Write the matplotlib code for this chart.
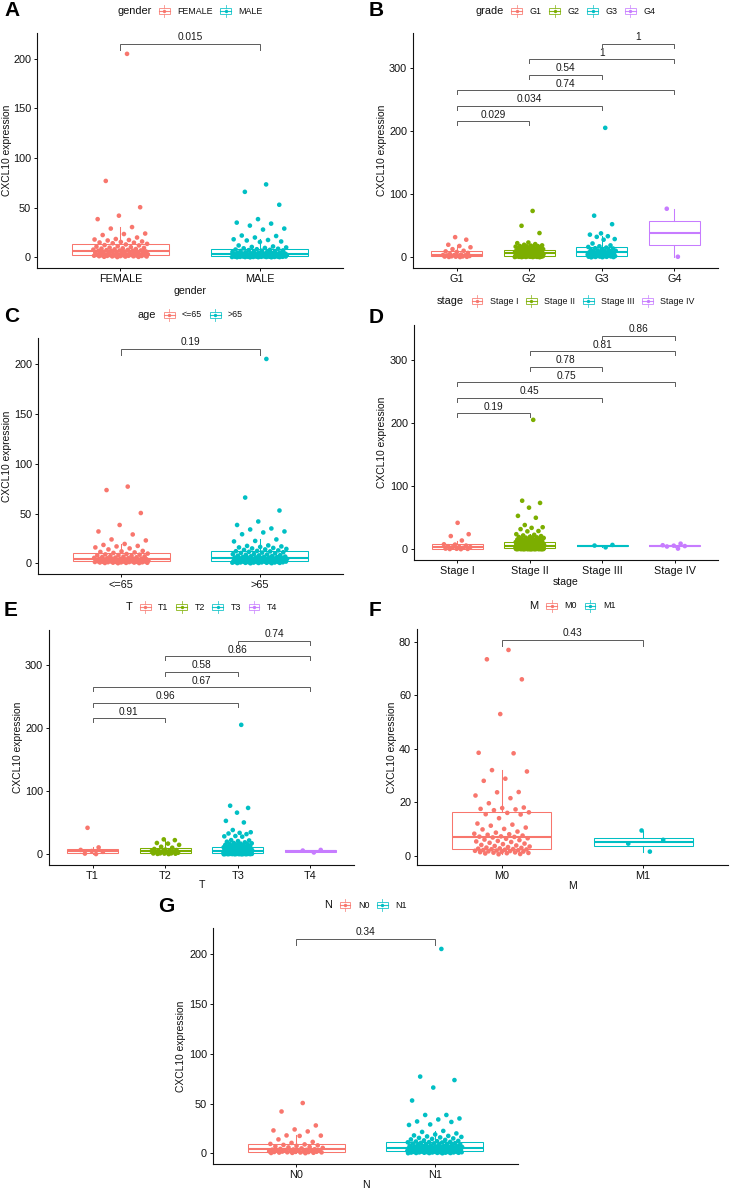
import numpy as np
import matplotlib
matplotlib.use('Agg')
import matplotlib.pyplot as plt
from matplotlib.offsetbox import DrawingArea, TextArea, HPacker, AnchoredOffsetbox
from matplotlib.patches import Rectangle
from matplotlib.lines import Line2D

plt.rcParams['font.family'] = ['Liberation Sans', 'DejaVu Sans']

RED, GREEN, CYAN, PURPLE = '#F8766D', '#7CAE00', '#00BFC4', '#C77CFF'

# ---------------- data ----------------
gender_labels = ['FEMALE', 'MALE']
gender_female = [205, 77, 50.5, 42, 38.5, 30.5, 29, 24, 23.5, 22.5, 20, 18.5, 18, 17.5, 17, 16, 15.5, 15, 14.8, 14.2,
                 13.6, 13, 12.4, 12, 11.2, 10.8, 10.3, 9.8, 9.5, 9.1, 8.8, 8.4, 8.1, 7.8, 7.5, 7.3, 7.0, 6.9, 6.7, 6.6,
                 6.3, 6.0, 5.8, 5.5, 5.2, 5.0, 4.7, 4.5, 4.3, 4.0, 3.8, 3.6, 3.4, 3.2, 3.1, 2.9, 2.8, 2.7, 2.6, 2.5,
                 2.4, 2.3, 2.2, 2.1, 2.0, 1.9, 1.8, 1.7, 1.6, 1.5, 1.4, 1.3, 1.2, 1.1, 1.0, 0.9, 0.8, 0.6, 0.5, 0.3]
gender_male = [73.5, 66, 53, 38.5, 35, 34, 32, 29, 28, 22, 21.5, 20, 18.2, 17.5, 17, 16, 15.5, 12, 11, 10.5, 10, 9.5, 9.1, 8.7,
               8.2, 7.9, 7.6, 7.3, 7.0, 6.7, 6.4, 6.1, 5.8, 5.5, 5.3, 5.1, 4.9, 4.7, 4.5, 4.3, 4.1, 3.9, 3.8, 3.7, 3.6, 3.5, 3.4, 3.35,
               3.2, 3.1, 3.0, 2.9, 2.8, 2.7, 2.6, 2.5, 2.4, 2.3, 2.2, 2.1, 2.0, 1.9, 1.8, 1.7, 1.6, 1.5, 1.4, 1.3, 1.25, 1.2, 1.1, 1.05,
               0.98, 0.95, 0.9, 0.88, 0.85, 0.8, 0.78, 0.75, 0.7, 0.65, 0.6, 0.58, 0.55, 0.5, 0.45, 0.4, 0.38, 0.35, 0.3, 0.25, 0.2, 0.15, 0.1, 0.05]
gender_pvalues = ['0.015']

grade_labels = ['G1', 'G2', 'G3', 'G4']
grade_g1 = [0.5, 0.7, 0.9, 1.1, 1.3, 1.5, 1.7, 2.2, 2.6, 3.0, 3.3, 3.5, 3.7, 4.5, 5.5, 7.0, 8.5, 9.5, 10.5, 13, 16, 18, 20, 28, 32]
grade_g2 = [73.5, 50, 38.5, 23.5, 22.5, 21, 20, 19, 18.5, 18, 17.8, 17.5, 17, 16.5, 16, 15.5, 15, 14.5, 14, 13.5, 13, 12.5, 12,
            11.5, 11.3, 11, 10.7, 10.4, 10.1, 9.8, 9.5, 9.2, 9.0, 8.8, 8.6, 8.4, 8.2, 8.0, 7.8, 7.6, 7.4, 7.3, 7.2, 7.1, 7.0, 6.9,
            6.7, 6.5, 6.3, 6.1, 5.9, 5.7, 5.5, 5.3, 5.1, 4.9, 4.7, 4.5, 4.3, 4.1, 3.9, 3.7, 3.5, 3.3, 3.1, 3.0, 2.9, 2.8, 2.7,
            2.5, 2.4, 2.3, 2.2, 2.1, 2.0, 1.9, 1.8, 1.7, 1.6, 1.5, 1.4, 1.3, 1.2, 1.1, 1.0, 0.9, 0.8, 0.7, 0.6, 0.5, 0.4, 0.3]
grade_g3 = [205, 66, 52.5, 38, 36, 33.5, 32.5, 29, 28, 22, 19, 17.5, 16.5,
            15.5, 14.5, 14, 13, 12, 11.5, 11, 10.5, 10, 9.5, 9, 8.5, 8.0,
            7.7, 7.3, 7, 6.5, 6, 5.5, 5, 4.5, 4, 3.6, 3.3, 3.0, 2.7,
            2.5, 2.3, 2.1, 1.9, 1.7, 1.5, 1.3, 1.1, 0.9, 0.7, 0.5, 0.3, 0.1]
grade_g4 = [1.0, 77.0]
grade_pvalues = ['0.029', '0.034', '0.74', '0.54', '1', '1']

age_labels = ['<=65', '>65']
age_young = [77, 73.5, 50.5, 38.5, 32, 29, 24, 23, 19.5, 18.5, 17.5, 17, 16, 15, 14, 12.5, 12, 11.5, 11, 10.5,
             9.8, 9.4, 9.0, 8.7, 8.3, 8.0, 7.6, 7.3, 7.0, 6.7, 6.4, 6.1, 5.8, 5.5, 5.3, 5.1, 4.9, 4.7, 4.5, 4.4,
             4.2, 4.1, 4.0, 3.9, 3.8, 3.7, 3.6, 3.5, 3.4, 3.3, 3.2, 3.1, 2.9, 2.8, 2.6, 2.5, 2.4, 2.3, 2.2, 2.1,
             1.95, 1.9, 1.8, 1.7, 1.6, 1.5, 1.45, 1.4, 1.3, 1.2, 1.1, 1.0, 0.9, 0.8, 0.7, 0.6, 0.5, 0.4, 0.3, 0.2]
age_old = [205, 66, 53, 42, 38.5, 35, 34, 32, 31, 29.2, 24, 22.5, 22, 18, 17.5, 17, 16.5, 16, 15.5, 15, 14.5, 14, 13.5, 13,
           12.5, 12.2, 12, 11.6, 11.2, 10.8, 10.4, 10, 9.6, 9.2, 8.9, 8.6, 8.3, 8, 7.7, 7.4, 7.1, 6.8, 6.6, 6.4, 6.2, 6.0, 5.9, 5.8,
           5.6, 5.5, 5.3, 5.1, 4.9, 4.7, 4.5, 4.3, 4.1, 3.9, 3.7, 3.5, 3.3, 3.1, 3.0, 2.9, 2.8, 2.7, 2.6, 2.5, 2.4, 2.3, 2.2, 2.1,
           1.95, 1.9, 1.85, 1.8, 1.7, 1.6, 1.5, 1.4, 1.35, 1.3, 1.2, 1.1, 1.0, 0.95, 0.9, 0.8, 0.7, 0.6, 0.55, 0.5, 0.4, 0.3, 0.2, 0.1]
age_pvalues = ['0.19']

stage_labels = ['Stage I', 'Stage II', 'Stage III', 'Stage IV']
stage_1 = [0.3, 0.5, 0.7, 0.9, 1.2, 2.5, 3.2, 3.6, 3.8, 5.0, 6.0, 7.5, 8.0, 14, 21, 24, 42]
stage_2 = [205, 77, 73.5, 66, 53, 50, 38.5, 35, 34, 32, 29, 28.5, 24, 23, 22, 21, 20, 19.5, 19, 18.5, 18, 17.5, 17, 16.5,
           16, 15.5, 15, 14.5, 14, 13.5, 13, 12.5, 12, 11.5, 11.2,
           10.9, 10.7, 10.5, 10.3, 10.1, 9.9, 9.7, 9.5, 9.3, 9.1, 8.9, 8.7, 8.5, 8.3, 8.1, 7.9, 7.7, 7.5, 7.3, 7.2, 7.1, 7.0,
           6.9, 6.8, 6.7, 6.6, 6.5, 6.4, 6.3, 6.2, 6.1, 6.0, 5.95, 5.9, 5.85,
           5.7, 5.6, 5.5, 5.4, 5.3, 5.2, 5.1, 5.0, 4.9, 4.8, 4.7, 4.5, 4.3, 4.1, 3.9, 3.7, 3.5, 3.3, 3.1, 3.0, 2.9, 2.8, 2.7,
           2.6, 2.5, 2.4, 2.3, 2.2, 2.1, 2.0, 1.9, 1.8, 1.75, 1.7, 1.65,
           1.58, 1.55, 1.5, 1.45, 1.4, 1.35, 1.3, 1.25, 1.2, 1.15, 1.1, 1.05, 1.0, 0.95, 0.9, 0.85, 0.8, 0.75, 0.7, 0.65,
           0.6, 0.55, 0.5, 0.45, 0.4, 0.35, 0.3, 0.28, 0.25, 0.22, 0.2, 0.15, 0.12, 0.1, 0.05]
stage_3 = [3.2, 6.0, 7.0]
stage_4 = [1.2, 4.5, 5.2, 5.8, 6.5, 9.0]
stage_pvalues = ['0.19', '0.45', '0.75', '0.78', '0.81', '0.86']

t_labels = ['T1', 'T2', 'T3', 'T4']
t_1 = [0.5, 1.2, 4.0, 5.3, 7.0, 11.0, 42.0]
t_2 = [0.4, 0.7, 1.0, 1.2, 1.4, 1.5, 1.6, 2.5, 3.2, 4.0, 4.5, 5.0, 5.3, 5.8, 6.3, 6.8, 7.5, 8.5, 10.5, 12, 15, 17, 18, 22.5, 23.7]
t_3 = [205, 77, 73.5, 66, 53, 50.5, 38.5, 35, 34, 33, 32, 29, 28.5, 28, 22.5, 22, 21, 20, 19, 18, 17.5, 17, 16.5, 16,
       15.5, 15, 14.5, 14, 13.5, 13, 12.5,
       11.8, 11.5, 11.2, 11, 10.7, 10.4, 10.1, 9.8, 9.5, 9.2, 8.9, 8.6, 8.3, 8.1, 7.9, 7.7, 7.5, 7.3, 7.1, 6.9, 6.8, 6.7,
       6.6, 6.5, 6.4, 6.3, 6.2, 6.1, 6.0, 5.9, 5.85,
       5.7, 5.6, 5.5, 5.4, 5.2, 5.0, 4.8, 4.6, 4.4, 4.2, 4.0, 3.8, 3.6, 3.4, 3.2, 3.0, 2.9, 2.8, 2.7, 2.6, 2.5, 2.4, 2.3,
       2.2, 2.1, 2.0, 1.9, 1.8, 1.75, 1.7, 1.65,
       1.55, 1.5, 1.45, 1.4, 1.35, 1.3, 1.25, 1.2, 1.15, 1.1, 1.05, 1.0, 0.95, 0.9, 0.85, 0.8, 0.75, 0.7, 0.65, 0.6, 0.55,
       0.5, 0.45, 0.4, 0.35, 0.3, 0.25, 0.2, 0.15, 0.1, 0.05]
t_4 = [3.0, 6.0, 7.0]
t_pvalues = ['0.91', '0.96', '0.67', '0.58', '0.86', '0.74']

m_labels = ['M0', 'M1']
m_0 = [77, 73.5, 66, 53, 38.5, 38.3, 32, 31.5, 28.8, 28, 23.8, 23.7, 22.5, 21.5, 19.6, 18, 17.8, 17.5, 17.3, 17,
       16.2, 16, 15.5, 15.4, 14, 12, 11.6, 11.2, 10.5, 10, 9.8, 9, 8.6, 8.2, 8.0, 7.8, 7.5, 7.2, 7.1, 7.0,
       6.8, 6.5, 6.3, 6.0, 5.8, 5.5, 5.3, 5.1, 4.8, 4.5, 4.3, 4.0, 3.8, 3.6, 3.4, 3.2, 3.0, 2.9, 2.7, 2.6,
       2.45, 2.4, 2.3, 2.2, 2.1, 2.0, 1.9, 1.8, 1.7, 1.6, 1.5, 1.4, 1.3, 1.2, 1.1, 1.0, 0.9, 0.8, 0.6, 0.5]
m_1 = [1.5, 4.5, 5.9, 9.4]
m_pvalues = ['0.43']

n_labels = ['N0', 'N1']
n_0 = [50.5, 42, 28, 24, 23, 22, 18, 17.8, 17.5, 14, 11.5, 10.5,
       9.5, 9, 8.5, 8, 7.5, 7, 6.5, 6, 5.5, 5, 4.5, 4.1,
       3.9, 3.7, 3.5, 3.3, 3.1, 2.9, 2.7, 2.5, 2.3, 2.1, 1.9, 1.8,
       1.6, 1.5, 1.4, 1.3, 1.1, 1.0, 0.9, 0.8, 0.6, 0.5, 0.4, 0.2]
n_1 = [205, 77, 73.5, 66, 53, 38.5, 38.5, 35, 34, 32, 31.5, 29, 28.5, 22.5, 21.5, 20, 19, 18, 17.5, 17, 16.5, 16,
       15.5, 15, 14.5, 14, 13.5, 13, 12.5, 12.2, 11.9,
       11.5, 11.3, 11.1, 10.9, 10.6, 10.3, 10, 9.8, 9.5, 9.2, 9, 8.7, 8.5, 8.2, 8, 7.8, 7.5, 7.3, 7.1, 6.9, 6.8,
       6.6, 6.5, 6.4, 6.3, 6.2, 6.1, 6.0, 5.9, 5.8, 5.75,
       5.6, 5.5, 5.4, 5.3, 5.2, 5.1, 5.0, 4.9, 4.7, 4.5, 4.3, 4.1, 3.9, 3.8, 3.7, 3.6, 3.5, 3.4, 3.3, 3.2, 3.1,
       3.0, 2.9, 2.8, 2.75, 2.7, 2.6, 2.5, 2.45, 2.4, 2.35,
       2.25, 2.2, 2.15, 2.1, 2.0, 1.95, 1.9, 1.8, 1.7, 1.65, 1.6, 1.5, 1.45, 1.4, 1.3, 1.2, 1.15, 1.1, 1.0, 0.95,
       0.9, 0.8, 0.7, 0.65, 0.6, 0.5, 0.4, 0.35, 0.3, 0.2, 0.1]
n_pvalues = ['0.34']

pairs2 = [(1, 2)]
pairs4 = [(1, 2), (1, 3), (1, 4), (2, 3), (2, 4), (3, 4)]

# ---------------- layout ----------------
W, H = 730, 1190
fig = plt.figure(figsize=(W / 100, H / 100), dpi=100)
fig.patch.set_facecolor('white')


def rect(x0, y0, x1, y1):
    return [x0 / W, 1 - y1 / H, (x1 - x0) / W, (y1 - y0) / H]


def key_glyph(color):
    w, h = 8.6, 9.6
    da = DrawingArea(w, h, 0, 0)
    da.add_artist(Line2D([w / 2, w / 2], [0.2, h - 0.2], color=color, lw=0.6, alpha=0.8))
    da.add_artist(Rectangle((0.4, h * 0.25), w - 0.8, h * 0.5, facecolor='white',
                            edgecolor=color, lw=0.6, alpha=0.9))
    da.add_artist(Line2D([0.4, w - 0.4], [h / 2, h / 2], color=color, lw=0.8, alpha=0.9))
    da.add_artist(Line2D([w / 2], [h / 2], marker='o', color=color, ms=2.4, ls='none', mew=0))
    return da


def add_legend(title, labels, colors, cx, cy):
    children = [TextArea(title, textprops=dict(fontsize=7.9, color='#111111'))]
    for lab, col in zip(labels, colors):
        children.append(key_glyph(col))
        children.append(TextArea(lab, textprops=dict(fontsize=6.4, color='#111111')))
    pack = HPacker(children=children, align='center', pad=0, sep=5)
    box = AnchoredOffsetbox(loc='center', child=pack, pad=0, borderpad=0, frameon=False,
                            bbox_to_anchor=(cx / W, 1 - cy / H), bbox_transform=fig.transFigure)
    fig.add_artist(box)


def panel(letter, box_px, title, labels, groups, colors, pvals, pairs, yticks,
          ylab_x, legend_y, letter_xy, xlabel=None, xlabel_y=None):
    x0, y0, x1, y1 = box_px
    ax = fig.add_axes(rect(*box_px))
    n = len(groups)
    pos = np.arange(1, n + 1)
    bp = ax.boxplot(groups, positions=pos, widths=0.7, showfliers=False, showcaps=False,
                    patch_artist=True, whis=1.5, zorder=2)
    for i, c in enumerate(colors):
        bp['boxes'][i].set(facecolor='white', edgecolor=c, lw=0.75)
        bp['medians'][i].set(color=c, lw=1.5)
        bp['whiskers'][2 * i].set(color=c, lw=0.75)
        bp['whiskers'][2 * i + 1].set(color=c, lw=0.75)
    for i, (g, c) in enumerate(zip(groups, colors)):
        vals = np.asarray(g, dtype=float)
        k = np.arange(len(vals)) + 1
        offs = ((k * 0.6180339887) % 1.0 - 0.5) * 0.4
        ax.scatter(pos[i] + offs, vals, s=11, color=c, edgecolors='none', zorder=3)
    allv = np.concatenate([np.asarray(g, float) for g in groups])
    dmin, dmax = allv.min(), allv.max()
    drange = dmax - dmin
    tip = 0.03 * drange
    ys = []
    for k_, ((a, b), lab) in enumerate(zip(pairs, pvals)):
        yb = dmax + (0.05 + 0.12 * k_) * drange
        ys.append(yb)
        ax.plot([a, a, b, b], [yb - tip, yb, yb, yb - tip], color='#5a5a5a', lw=0.7,
                solid_joinstyle='miter', zorder=4)
        ax.annotate(lab, xy=((a + b) / 2, yb), xytext=(0, 1.0), textcoords='offset points',
                    ha='center', va='bottom', fontsize=7.3, color='#1a1a1a')
    hi = max(dmax, max(ys))
    R = hi - dmin
    ax.set_ylim(dmin - 0.05 * R, hi + 0.05 * R)
    ax.set_xlim(0.4, n + 0.6)
    ax.set_xticks(pos, labels)
    ax.set_yticks(yticks)
    for s in ('top', 'right'):
        ax.spines[s].set_visible(False)
    for s in ('left', 'bottom'):
        ax.spines[s].set_linewidth(0.8)
        ax.spines[s].set_color('#111111')
    ax.tick_params(axis='both', length=2.5, width=0.7, pad=1.8, labelsize=7.8,
                   colors='#111111', direction='out')
    ax.set_ylabel('CXCL10 expression', fontsize=7.4, color='#111111')
    ax.yaxis.set_label_coords((ylab_x - x0) / (x1 - x0), 0.5)
    ax.yaxis.label.set_va('center')
    if xlabel:
        ax.set_xlabel(xlabel, fontsize=7.6, color='#111111')
        ax.xaxis.set_label_coords(0.5, -(xlabel_y - y1) / (y1 - y0))
        ax.xaxis.label.set_va('center')
    add_legend(title, labels, colors, (x0 + x1) / 2, legend_y)
    fig.text(letter_xy[0] / W, 1 - letter_xy[1] / H, letter, fontsize=15, fontweight='bold',
             ha='center', va='center', color='black')
    return ax


two = [RED, CYAN]
four = [RED, GREEN, CYAN, PURPLE]

panel('A', (37, 33, 343, 268), 'gender', gender_labels, [gender_female, gender_male], two,
      gender_pvalues, pairs2, [0, 50, 100, 150, 200], 7, 11, (12, 11), 'gender', 291)
panel('B', (413, 33, 718, 268), 'grade', grade_labels, [grade_g1, grade_g2, grade_g3, grade_g4], four,
      grade_pvalues, pairs4, [0, 100, 200, 300], 382, 11, (376, 11))
panel('C', (38, 338, 343, 574), 'age', age_labels, [age_young, age_old], two,
      age_pvalues, pairs2, [0, 50, 100, 150, 200], 7, 315, (12, 317))
panel('D', (414, 325, 718, 560), 'stage', stage_labels, [stage_1, stage_2, stage_3, stage_4], four,
      stage_pvalues, pairs4, [0, 100, 200, 300], 382, 301, (376, 318), 'stage', 582)
panel('E', (49, 630, 354, 865), 'T', t_labels, [t_1, t_2, t_3, t_4], four,
      t_pvalues, pairs4, [0, 100, 200, 300], 18, 607, (11, 611), 'T', 885)
panel('F', (417, 629, 728, 865), 'M', m_labels, [m_0, m_1], two,
      m_pvalues, pairs2, [0, 20, 40, 60, 80], 392, 606, (375, 611), 'M', 886)
panel('G', (213, 928, 518, 1164), 'N', n_labels, [n_0, n_1], two,
      n_pvalues, pairs2, [0, 50, 100, 150, 200], 181, 905, (166, 907), 'N', 1185)

fig.savefig('out.png', dpi=100, facecolor='white')
